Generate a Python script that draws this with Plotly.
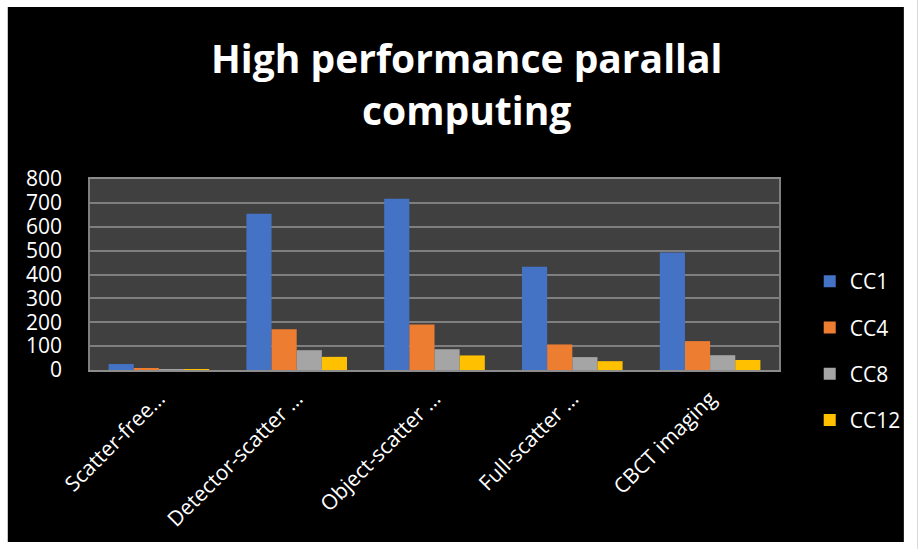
import plotly.graph_objects as go

# Scenarios on the x axis
categories = [
    "Scatter-free…",
    "Detector-scatter …",
    "Object-scatter …",
    "Full-scatter …",
    "CBCT imaging",
]

# Run times per compute configuration
cc1 = [25, 654, 717, 432, 492]
cc4 = [8, 171, 191, 107, 121]
cc8 = [2, 83, 87, 54, 62]
cc12 = [3, 55, 61, 37, 42]

series_names = ["CC1", "CC4", "CC8", "CC12"]
series_values = [cc1, cc4, cc8, cc12]
series_colors = ["#4472C4", "#ED7D31", "#A5A5A5", "#FFC000"]

y_ticks = [0, 100, 200, 300, 400, 500, 600, 700, 800]

title_lines = ["High performance parallal", "computing"]

W, H = 918, 549
ML, MR, MT, MB = 90, 133, 179, 179
PW, PH = W - ML - MR, H - MT - MB

FONT = "Open Sans"


def py_to_paper(py):
    return (H - MB - py) / PH


def px_to_paper(px):
    return (px - ML) / PW


fig = go.Figure()
for name, vals, col in zip(series_names, series_values, series_colors):
    fig.add_trace(go.Bar(
        x=categories,
        y=vals,
        name=name,
        legendgroup=name,
        marker=dict(color=col, line=dict(width=0)),
    ))

# two-line bold title
annotations = []
for text, cy in zip(title_lines, [57, 110]):
    annotations.append(dict(
        text=f"<b>{text}</b>",
        xref="paper",
        yref="paper",
        x=px_to_paper(470),
        y=py_to_paper(cy),
        xanchor="center",
        yanchor="middle",
        showarrow=False,
        font=dict(family=FONT, size=39, color="#ffffff"),
    ))

fig.update_layout(
    width=W,
    height=H,
    margin=dict(l=ML, r=MR, t=MT, b=MB, pad=0),
    paper_bgcolor="#000000",
    plot_bgcolor="#404040",
    barmode="group",
    bargap=0.27,
    bargroupgap=0,
    font=dict(family=FONT, color="#ffffff"),
    annotations=annotations,
    legend=dict(
        x=px_to_paper(816),
        xanchor="left",
        y=py_to_paper(351),
        yanchor="middle",
        font=dict(family=FONT, size=21, color="#ffffff"),
        bgcolor="rgba(0,0,0,0)",
        tracegroupgap=16,
        itemwidth=30,
    ),
    xaxis=dict(
        tickangle=-45,
        tickfont=dict(family=FONT, size=21, color="#ffffff"),
        showgrid=False,
        showline=True,
        linecolor="#8c8c8c",
        linewidth=2,
        mirror=True,
        ticks="",
        ticklabelstandoff=6,
    ),
    yaxis=dict(
        range=[0, 800],
        tickvals=y_ticks,
        ticktext=[str(v) for v in y_ticks],
        tickfont=dict(family=FONT, size=21, color="#ffffff"),
        showgrid=True,
        gridcolor="#7f7f7f",
        gridwidth=1.5,
        showline=True,
        linecolor="#7f7f7f",
        linewidth=1.5,
        mirror=True,
        zeroline=False,
        ticks="",
        ticklabelstandoff=22,
    ),
    shapes=[
        # white frame around the black chart area
        dict(
            type="rect",
            xref="paper",
            yref="paper",
            x0=-ML / PW,
            x1=(W - ML) / PW,
            y0=-MB / PH,
            y1=(H - MB) / PH,
            line=dict(color="#ffffff", width=14),
            fillcolor="rgba(0,0,0,0)",
            layer="above",
        )
    ],
)

fig.write_html("out.html")
